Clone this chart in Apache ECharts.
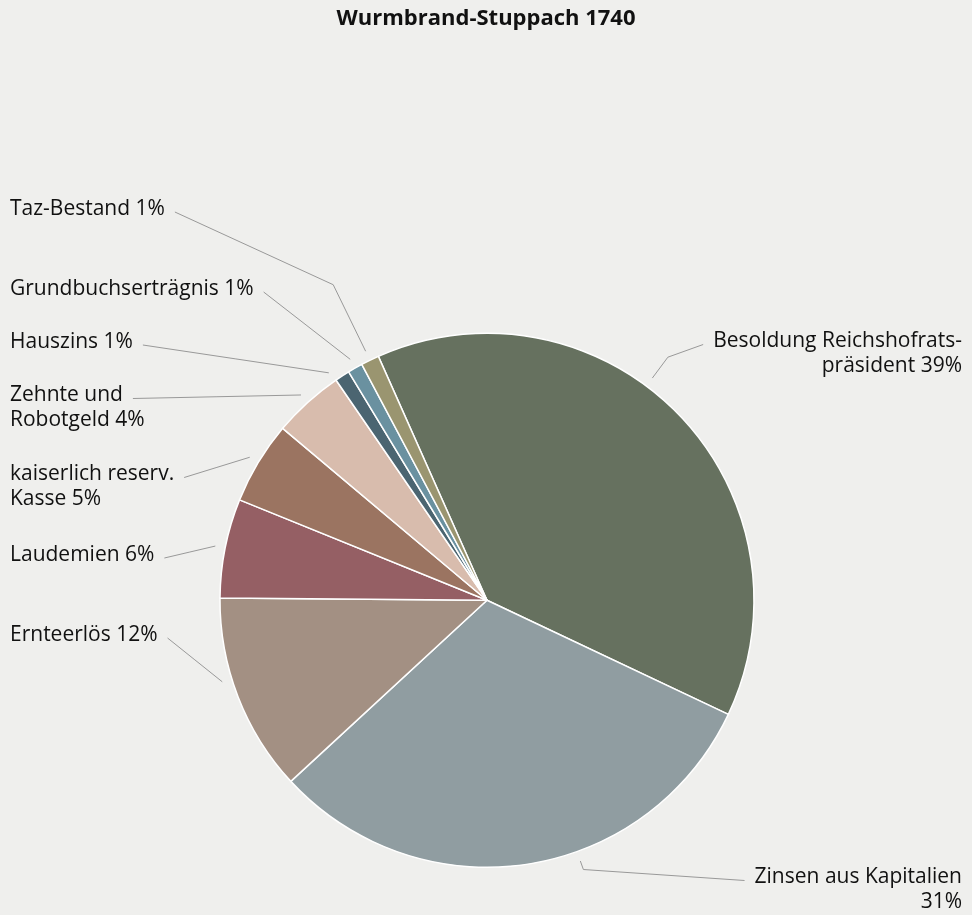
<!DOCTYPE html>
<html>
<head>
<meta charset="utf-8">
<script src="https://cdn.jsdelivr.net/npm/echarts@6/dist/echarts.min.js"></script>
<style>
html,body{margin:0;padding:0;background:#efefed;}
#chart{width:972px;height:915px;}
</style>
</head>
<body>
<div id="chart"></div>
<script>
const title = 'Wurmbrand-Stuppach 1740';
const categories = [
  'Besoldung Reichshofrats-\npräsident',
  'Zinsen aus Kapitalien',
  'Ernteerlös',
  'Laudemien',
  'kaiserlich reserv.\nKasse',
  'Zehnte und\nRobotgeld',
  'Hauszins',
  'Grundbuchserträgnis',
  'Taz-Bestand'
];
const values = [38.7, 31.1, 12.0, 6.0, 5.0, 4.3, 0.9, 0.9, 1.1];
const pctOnNewLine = [false, true, false, false, false, false, false, false, false];
const colors = ['#66715f', '#909da1', '#a39083', '#955f64', '#9b7461', '#d8bcad', '#4b6571', '#6a91a0', '#9a9570'];

// label layout (positions of the label blocks / connector styling, not of data marks)
const labelCenterY = [354, 890, 635, 555, 487, 408, 342, 289, 209];
const connectorBend = [26, 9, 0, 0, 0, 0, 0, 0, 74];
const anchorShiftDeg = [-9, -11, 4, 0, 0, 0, -2, 0, 0];
const FONT_SIZE = 21, FONT = 'Open Sans', LINE_H = 25, EDGE = 10, GAP = 10;

const W = 972;
const ctx = document.createElement('canvas').getContext('2d');
ctx.font = FONT_SIZE + 'px "' + FONT + '"';
function labelText(i, pct) {
  return categories[i] + (pctOnNewLine[i] ? '\n' : ' ') + pct + '%';
}

const chart = echarts.init(document.getElementById('chart'));
chart.setOption({
  backgroundColor: '#efefed',
  title: {
    text: title,
    left: 'center',
    top: 3,
    textStyle: {fontFamily: FONT, fontWeight: 'bold', fontSize: 22, color: '#111'}
  },
  series: [{
    type: 'pie',
    center: ['50.1%', '65.6%'],
    radius: 267,
    startAngle: 114,
    clockwise: true,
    avoidLabelOverlap: false,
    itemStyle: {borderColor: '#ffffff', borderWidth: 1.5},
    label: {
      fontFamily: FONT,
      fontSize: FONT_SIZE,
      color: '#111',
      lineHeight: LINE_H,
      formatter: function (p) {
        return labelText(p.dataIndex, Math.round(p.percent));
      }
    },
    labelLine: {
      length: 20,
      length2: 20,
      lineStyle: {color: '#999', width: 1}
    },
    labelLayout: function (params) {
      const i = params.dataIndex;
      const pts = params.labelLinePoints;
      const p0 = pts[0], p1 = pts[1];
      let dx = p1[0] - p0[0], dy = p1[1] - p0[1];
      const len = Math.hypot(dx, dy) || 1;
      dx /= len; dy /= len;
      // pie radius & centre recovered from the library's own label line geometry
      const R = 267;
      const cx = p0[0] - dx * R, cyc = p0[1] - dy * R;
      const a = anchorShiftDeg[i] * Math.PI / 180;
      const rdx = dx * Math.cos(a) - dy * Math.sin(a);
      const rdy = dx * Math.sin(a) + dy * Math.cos(a);
      const left = rdx < 0;
      const start = [cx + rdx * (R + GAP), cyc + rdy * (R + GAP)];
      const lines = params.text.split('\n');
      const w1 = ctx.measureText(lines[0]).width;
      const cy = labelCenterY[i];
      const firstY = cy - (lines.length - 1) * LINE_H / 2 + 3;
      const endX = left ? EDGE + w1 + GAP : W - EDGE - w1 - GAP;
      const end = [endX, firstY];
      let mid;
      if (connectorBend[i] > 0) {
        mid = [start[0] + rdx * connectorBend[i], start[1] + rdy * connectorBend[i]];
      } else {
        mid = [(start[0] + end[0]) / 2, (start[1] + end[1]) / 2];
      }
      return {
        x: left ? EDGE : W - EDGE,
        y: cy,
        align: left ? 'left' : 'right',
        verticalAlign: 'middle',
        labelLinePoints: [start, mid, end]
      };
    },
    emphasis: {disabled: true},
    animation: false,
    data: categories.map((c, i) => ({name: c, value: values[i], itemStyle: {color: colors[i]}}))
  }]
});
</script>
</body>
</html>
